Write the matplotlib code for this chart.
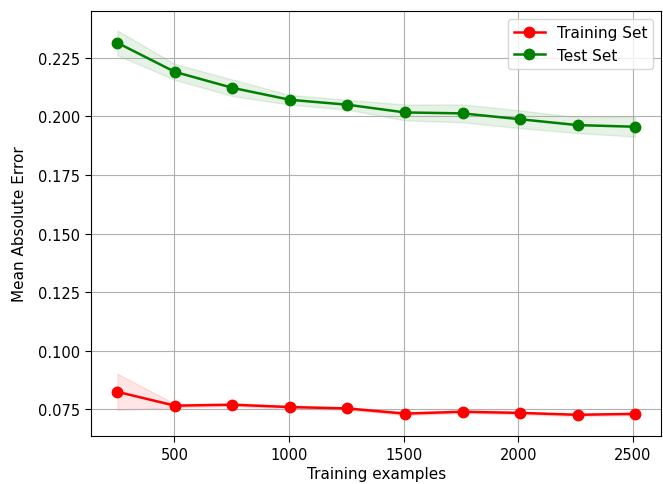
import numpy as np
import matplotlib.pyplot as plt

# learning curve results (mean absolute error)
train_sizes = [251, 502, 753, 1004, 1255, 1506, 1757, 2008, 2259, 2510]
train_mean = [0.0825, 0.0766, 0.0770, 0.0760, 0.0754, 0.0732, 0.0740, 0.0735, 0.0727, 0.0731]
train_std = [0.0077, 0.0008, 0.0006, 0.0007, 0.0006, 0.0007, 0.0006, 0.0007, 0.0006, 0.0006]
test_mean = [0.2314, 0.2190, 0.2122, 0.2071, 0.2050, 0.2017, 0.2013, 0.1988, 0.1963, 0.1956]
test_std = [0.0053, 0.0034, 0.0035, 0.0021, 0.0021, 0.0034, 0.0038, 0.0038, 0.0034, 0.0042]

train_sizes = np.array(train_sizes)
train_mean, train_std = np.array(train_mean), np.array(train_std)
test_mean, test_std = np.array(test_mean), np.array(test_std)

plt.rcParams['xtick.labelsize'] = 10.5
plt.rcParams['ytick.labelsize'] = 10.5
plt.rcParams['xtick.major.size'] = 4.5
plt.rcParams['ytick.major.size'] = 4.5
plt.rcParams['axes.labelsize'] = 11

fig, ax = plt.subplots(figsize=(6.63, 4.85), dpi=100)
ax.grid()
# shaded bands: mean +/- one std
ax.fill_between(train_sizes, train_mean - train_std, train_mean + train_std, alpha=0.1, color='r')
ax.fill_between(train_sizes, test_mean - test_std, test_mean + test_std, alpha=0.1, color='g')
ax.plot(train_sizes, train_mean, 'o-', color='r', ms=7.5, lw=1.8, label='Training Set')
ax.plot(train_sizes, test_mean, 'o-', color='g', ms=7.5, lw=1.8, label='Test Set')
ax.set_xlabel('Training examples', labelpad=3)
ax.set_ylabel('Mean Absolute Error', labelpad=8)
ax.legend(loc='best', fontsize=11)
fig.subplots_adjust(left=0.138, right=0.997, top=0.975, bottom=0.1)
fig.savefig('out.png')
